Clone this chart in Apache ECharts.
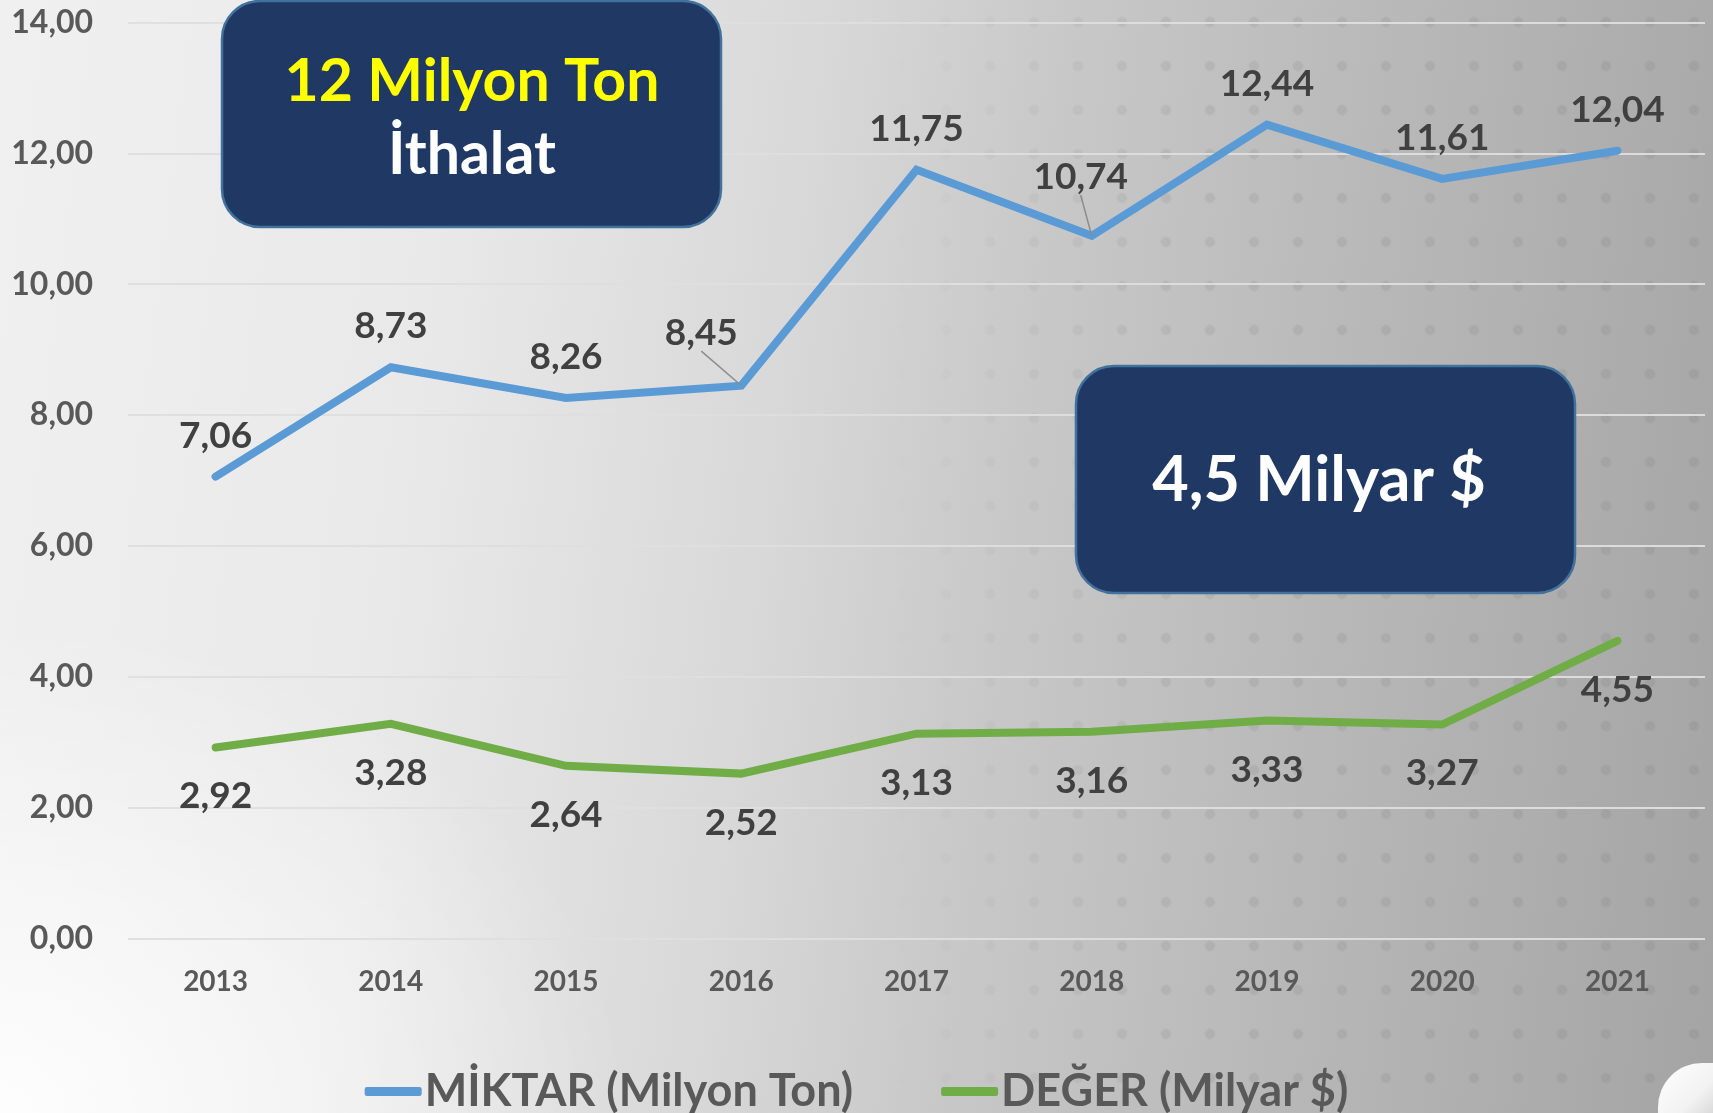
<!DOCTYPE html>
<html>
<head>
<meta charset="utf-8">
<script src="https://cdn.jsdelivr.net/npm/echarts@6/dist/echarts.min.js"></script>
<style>
  html, body { margin: 0; padding: 0; }
  body {
    width: 1713px;
    height: 1113px;
    overflow: hidden;
    position: relative;
    background:
      radial-gradient(ellipse 900px 700px at 0% 100%, rgba(255,255,255,0.9), rgba(255,255,255,0) 70%),
      linear-gradient(97deg, #f0f0f0 0%, #e9e9e9 25%, #d8d8d8 45%, #c8c8c8 58%, #b9b9b9 75%, #a4a4a4 100%);
  }
  .dots {
    position: absolute;
    left: 880px; top: 0; width: 833px; height: 1113px;
    background-image: radial-gradient(circle, rgba(90,90,90,0.11) 4px, rgba(90,90,90,0) 6px);
    background-size: 44px 44px;
    -webkit-mask-image: linear-gradient(90deg, rgba(0,0,0,0) 0%, rgba(0,0,0,1) 35%, rgba(0,0,0,1) 100%);
    mask-image: linear-gradient(90deg, rgba(0,0,0,0) 0%, rgba(0,0,0,1) 35%, rgba(0,0,0,1) 100%);
  }
  #chart { position: absolute; left: 0; top: 0; width: 1713px; height: 1113px; }
</style>
</head>
<body>
<div class="dots"></div>
<div id="chart"></div>
<script>
const years = ['2013', '2014', '2015', '2016', '2017', '2018', '2019', '2020', '2021']
const miktar = [7.06, 8.73, 8.26, 8.45, 11.75, 10.74, 12.44, 11.61, 12.04]
const deger = [2.92, 3.28, 2.64, 2.52, 3.13, 3.16, 3.33, 3.27, 4.55]
const seriesNames = ['MİKTAR (Milyon Ton)', 'DEĞER (Milyar $)']
const boxTexts = ['12 Milyon Ton', 'İthalat', '4,5 Milyar $']

const font = 'Lato, "Open Sans", sans-serif'
const fmt = (v) => v.toFixed(2).replace('.', ',')

// labels pulled aside with a leader line (dataIndex -> [dx, dy])
const miktarShift = { 3: [-40, -12], 5: [-11, -18] }

const chart = echarts.init(document.getElementById('chart'))

const labelStyle = {
  show: true,
  color: '#404040',
  fontFamily: font,
  fontWeight: 'bold',
  fontSize: 37,
  formatter: (p) => fmt(p.value),
}

chart.setOption({
  backgroundColor: 'transparent',
  animation: false,
  grid: { left: 128, right: 8, top: 22.5, bottom: 174.5 },
  xAxis: {
    type: 'category',
    data: years,
    axisLine: { show: false },
    axisTick: { show: false },
    axisLabel: { color: '#595959', fontFamily: font, fontWeight: 'bold', fontSize: 28, margin: 29 },
  },
  yAxis: {
    type: 'value',
    min: 0,
    max: 14,
    interval: 2,
    axisLine: { show: false },
    axisTick: { show: false },
    splitLine: { lineStyle: { color: 'rgba(222,222,222,0.95)', width: 2 } },
    axisLabel: {
      color: '#595959', fontFamily: font, fontWeight: 'bold', fontSize: 32, margin: 35,
      formatter: fmt,
    },
  },
  legend: {
    top: 1064,
    left: 'center',
    icon: 'roundRect',
    itemWidth: 57,
    itemHeight: 9,
    itemGap: 88,
    textStyle: { color: '#595959', fontFamily: font, fontWeight: 'bold', fontSize: 45, padding: [0, 0, 0, -2] },
    data: seriesNames,
  },
  series: [
    {
      name: seriesNames[0],
      type: 'line',
      data: miktar.map((v, i) => miktarShift[i]
        ? { value: v, labelLine: { show: true, lineStyle: { color: '#8c8c8c', width: 1.5 } } }
        : v),
      symbol: 'circle',
      symbolSize: 1,
      lineStyle: { color: '#5b9bd5', width: 8, cap: 'round', join: 'miter' },
      itemStyle: { color: '#5b9bd5' },
      label: { ...labelStyle, position: 'top', distance: 22 },
      labelLayout: (p) => {
        const s = miktarShift[p.dataIndex]
        return s ? { dx: s[0], dy: s[1] } : {}
      },
    },
    {
      name: seriesNames[1],
      type: 'line',
      data: deger,
      symbol: 'circle',
      symbolSize: 1,
      lineStyle: { color: '#70ad47', width: 8, cap: 'round', join: 'miter' },
      itemStyle: { color: '#70ad47' },
      label: { ...labelStyle, position: 'bottom', distance: 30 },
    },
  ],
  graphic: [
    {
      type: 'rect',
      shape: { x: 222, y: 1, width: 499, height: 226, r: 38 },
      style: { fill: '#203864', stroke: '#41719c', lineWidth: 2.5 },
      z: 10,
    },
    {
      type: 'text',
      x: 472, y: 82,
      style: { text: boxTexts[0], fill: '#ffff00', font: `bold 59px ${font}`, align: 'center', verticalAlign: 'middle' },
      z: 11,
    },
    {
      type: 'text',
      x: 472, y: 155,
      style: { text: boxTexts[1], fill: '#ffffff', font: `bold 59px ${font}`, align: 'center', verticalAlign: 'middle' },
      z: 11,
    },
    {
      type: 'rect',
      shape: { x: 1076, y: 366, width: 499, height: 227, r: 38 },
      style: { fill: '#203864', stroke: '#41719c', lineWidth: 2.5 },
      z: 10,
    },
    {
      type: 'text',
      x: 1319, y: 481,
      style: { text: boxTexts[2], fill: '#ffffff', font: `bold 63px ${font}`, align: 'center', verticalAlign: 'middle' },
      z: 11,
    },
    {
      type: 'rect',
      shape: { x: 1658, y: 1063, width: 60, height: 60, r: [44, 0, 0, 0] },
      style: {
        fill: new echarts.graphic.LinearGradient(0, 0, 1, 1, [
          { offset: 0, color: '#ffffff' },
          { offset: 0.6, color: '#f2f2f2' },
          { offset: 1, color: '#cfcfcf' },
        ]),
      },
      z: 10,
    },
  ],
})
</script>
</body>
</html>
